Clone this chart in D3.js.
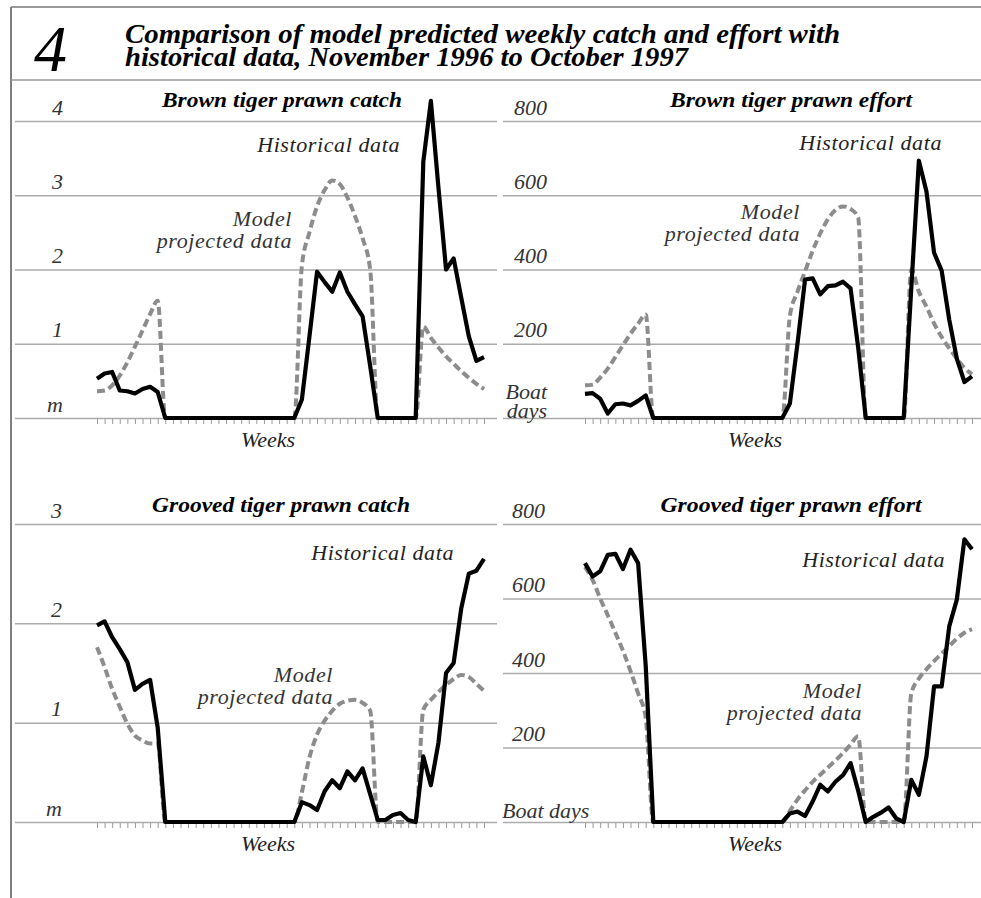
<!DOCTYPE html>
<html>
<head>
<meta charset="utf-8">
<script src="https://cdn.jsdelivr.net/npm/d3@7"></script>
<style>
  body { margin: 0; background: #fff; }
  text { font-family: "Liberation Serif", "Times New Roman", serif; }
</style>
</head>
<body>
<div id="chart"></div>
<script>
// weeks, November 1996 to October 1997
let weeks = d3.range(1, 53);

// values (catch in millions kg, effort in boat days)
let brownCatchHist = [
  0.53, 0.60, 0.62, 0.37, 0.36, 0.33, 0.39, 0.42, 0.35,
  0, 0, 0, 0, 0, 0, 0, 0, 0, 0, 0, 0, 0, 0, 0, 0, 0, 0,
  0.25, 1.10, 1.97, 1.83, 1.70, 1.96, 1.70, 1.53, 1.37, 0.70,
  0, 0, 0, 0, 0, 0,
  3.45, 4.27, 3.10, 2.00, 2.15, 1.62, 1.10, 0.77, 0.82
];
let brownCatchModel = [
  0.36, 0.37, 0.44, 0.57, 0.75, 0.96, 1.18, 1.40, 1.58,
  0, 0, 0, 0, 0, 0, 0, 0, 0, 0, 0, 0, 0, 0, 0, 0, 0, 0,
  2.05, 2.50, 2.85, 3.07, 3.20, 3.15, 2.97, 2.72, 2.42, 2.00,
  0, 0, 0, 0, 0, 0,
  1.23, 1.08, 0.95, 0.83, 0.73, 0.63, 0.54, 0.46, 0.39
];
let brownEffortHist = [
  65, 67, 52, 12, 37, 39, 34, 46, 61,
  0, 0, 0, 0, 0, 0, 0, 0, 0, 0, 0, 0, 0, 0, 0, 0, 0, 0,
  39, 200, 373, 376, 333, 355, 357, 367, 349, 190,
  0, 0, 0, 0, 0, 0,
  350, 693, 610, 445, 397, 265, 160, 97, 112
];
let brownEffortModel = [
  88, 90, 109, 133, 164, 196, 227, 254, 279,
  0, 0, 0, 0, 0, 0, 0, 0, 0, 0, 0, 0, 0, 0, 0, 0, 0, 0,
  275, 340, 395, 450, 497, 535, 560, 570, 563, 540,
  0, 0, 0, 0, 0, 0,
  400, 340, 300, 255, 218, 188, 160, 135, 118
];
let grooveCatchHist = [
  1.98, 2.02, 1.86, 1.74, 1.61, 1.33, 1.39, 1.43, 0.95,
  0, 0, 0, 0, 0, 0, 0, 0, 0, 0, 0, 0, 0, 0, 0, 0, 0, 0,
  0.20, 0.17, 0.12, 0.31, 0.42, 0.34, 0.51, 0.42, 0.54, 0.28,
  0.02, 0.02, 0.07, 0.09, 0.02, 0,
  0.66, 0.37, 0.80, 1.50, 1.60, 2.15, 2.50, 2.53, 2.65
];
let grooveCatchModel = [
  1.76, 1.56, 1.34, 1.16, 0.99, 0.87, 0.82, 0.79, 0.79,
  0, 0, 0, 0, 0, 0, 0, 0, 0, 0, 0, 0, 0, 0, 0, 0, 0, 0,
  0.30, 0.65, 0.88, 1.02, 1.12, 1.19, 1.22, 1.23, 1.20, 1.12,
  0, 0, 0, 0, 0, 0,
  1.13, 1.23, 1.31, 1.38, 1.44, 1.48, 1.46, 1.39, 1.32
];
let grooveEffortHist = [
  695, 659, 673, 717, 720, 679, 731, 695, 420,
  0, 0, 0, 0, 0, 0, 0, 0, 0, 0, 0, 0, 0, 0, 0, 0, 0, 0,
  23, 28, 16, 55, 100, 82, 108, 126, 158, 84,
  0, 14, 25, 39, 10, 0,
  113, 73, 176, 364, 364, 525, 597, 759, 732
];
let grooveEffortModel = [
  685, 650, 600, 555, 508, 460, 405, 345, 280,
  0, 0, 0, 0, 0, 0, 0, 0, 0, 0, 0, 0, 0, 0, 0, 0, 0, 0,
  30, 60, 85, 108, 127, 146, 165, 185, 208, 230,
  0, 0, 0, 0, 0, 0,
  345, 385, 410, 432, 452, 472, 492, 508, 518
];

// tick values and labels
let brownCatchTicks = [0, 1, 2, 3, 4];
let grooveCatchTicks = [0, 1, 2, 3];
let catchLabels = ["m", "1", "2", "3", "4"];
let effortTicks = [0, 200, 400, 600, 800];
let effortLabels = ["Boat days", "200", "400", "600", "800"];

let titleLines = [
  "Comparison of model predicted weekly catch and effort with",
  "historical data, November 1996 to October 1997"
];

let svgWidth = 981;
let svgHeight = 898;

let svg = d3.select("#chart")
  .append("svg")
  .attr("width", svgWidth)
  .attr("height", svgHeight);

// frame
svg.append("line")
  .attr("x1", 11).attr("x2", 11).attr("y1", 7).attr("y2", svgHeight)
  .attr("stroke", "#555").attr("stroke-width", 1.5);
svg.append("line")
  .attr("x1", 11).attr("x2", svgWidth).attr("y1", 7).attr("y2", 7)
  .attr("stroke", "#777").attr("stroke-width", 1.5);
svg.append("line")
  .attr("x1", 11).attr("x2", svgWidth).attr("y1", 80).attr("y2", 80)
  .attr("stroke", "#999").attr("stroke-width", 1.5);

// figure number and title
svg.append("text")
  .attr("x", 34).attr("y", 71)
  .attr("font-size", 66)
  .attr("font-style", "italic")
  .text("4");

svg.selectAll(".title")
  .data(titleLines)
  .enter()
  .append("text")
  .attr("class", "title")
  .attr("x", 125)
  .attr("y", (d, i) => 43 + i * 23)
  .attr("font-size", 27)
  .attr("font-weight", "bold")
  .attr("font-style", "italic")
  .attr("textLength", (d, i) => i === 0 ? 715 : 563)
  .attr("lengthAdjust", "spacingAndGlyphs")
  .text(d => d);

function drawPanel(p) {
  let g = svg.append("g");

  let x = d3.scaleLinear()
    .domain([0, weeks.length - 1])
    .range(p.xRange);

  let y = d3.scaleLinear()
    .domain([0, p.max])
    .range(p.yRange);

  // gridlines with value labels sitting on top of them
  let leftAxis = d3.axisLeft(y)
    .tickValues(p.ticks)
    .tickSize(p.grid[1] - p.grid[0])
    .tickFormat((d, i) => p.labels[i]);

  let yAxis = g.append("g")
    .attr("transform", `translate(${p.grid[1]},0)`)
    .call(leftAxis);

  yAxis.select(".domain").remove();
  yAxis.attr("font-family", null).attr("font-size", null);
  yAxis.selectAll("line")
    .attr("stroke", "#ababab")
    .attr("stroke-width", 1.5);
  yAxis.selectAll("text")
    .attr("x", p.labelX - p.grid[1])
    .attr("dy", -7)
    .attr("fill", "#333")
    .attr("font-size", 22)
    .attr("font-style", "italic");

  // zero label: "m" or "Boat days"
  let zero = yAxis.selectAll("text").filter(d => d === 0);
  if (p.zeroSplit) {
    zero.text(null);
    zero.append("tspan").attr("x", p.labelX - p.grid[1]).attr("dy", -20).text("Boat");
    zero.append("tspan").attr("x", p.labelX - p.grid[1]).attr("dy", 19).text("days");
  }
  if (p.zeroStart) {
    zero.attr("text-anchor", "start")
      .attr("x", p.zeroStart - p.grid[1])
      .attr("dy", -5);
  }

  // week ticks
  let bottomAxis = d3.axisBottom(x)
    .tickValues(d3.range(weeks.length))
    .tickSize(5)
    .tickFormat("");

  let xAxis = g.append("g")
    .attr("transform", `translate(0, ${p.yRange[0] + 1})`)
    .call(bottomAxis);

  xAxis.select(".domain").remove();
  xAxis.selectAll("line").attr("stroke", "#999");

  // model (dashed, smooth) then historical (solid)
  let modelLine = d3.line()
    .x((d, i) => x(i))
    .y(d => y(d))
    .curve(d3.curveMonotoneX);

  let histLine = d3.line()
    .x((d, i) => x(i))
    .y(d => y(d));

  g.append("path")
    .datum(p.model)
    .attr("d", modelLine)
    .attr("fill", "none")
    .attr("stroke", "#8c8c8c")
    .attr("stroke-width", 4)
    .attr("stroke-dasharray", "8,4");

  g.append("path")
    .datum(p.hist)
    .attr("d", histLine)
    .attr("fill", "none")
    .attr("stroke", "#000")
    .attr("stroke-width", 4.2)
    .attr("stroke-linejoin", "round");

  // panel title
  g.append("text")
    .attr("x", p.titleX)
    .attr("y", p.titleY)
    .attr("text-anchor", "middle")
    .attr("font-size", 21)
    .attr("font-weight", "bold")
    .attr("font-style", "italic")
    .attr("textLength", p.titleW)
    .attr("lengthAdjust", "spacingAndGlyphs")
    .text(p.title);

  // annotations
  g.append("text")
    .attr("x", p.histAt[0])
    .attr("y", p.histAt[1])
    .attr("text-anchor", "end")
    .attr("font-size", 22)
    .attr("font-style", "italic")
    .attr("letter-spacing", 0.6)
    .attr("fill", "#222")
    .text("Historical data");

  let model = g.append("text")
    .attr("text-anchor", "end")
    .attr("font-size", 22)
    .attr("font-style", "italic")
    .attr("letter-spacing", 0.6)
    .attr("fill", "#333");
  model.append("tspan").attr("x", p.modelAt[0]).attr("y", p.modelAt[1]).text("Model");
  model.append("tspan").attr("x", p.modelAt[0]).attr("y", p.modelAt[1] + 22).text("projected data");

  g.append("text")
    .attr("x", p.weeksX)
    .attr("y", p.yRange[0] + 29)
    .attr("text-anchor", "middle")
    .attr("font-size", 22)
    .attr("font-style", "italic")
    .attr("fill", "#222")
    .text("Weeks");
}

drawPanel({
  title: "Brown tiger prawn catch", titleX: 282, titleY: 107, titleW: 240,
  hist: brownCatchHist, model: brownCatchModel,
  max: 4, ticks: brownCatchTicks, labels: catchLabels,
  xRange: [97, 484], yRange: [418, 121], grid: [15, 497], labelX: 63,
  histAt: [400, 152], modelAt: [292, 226], weeksX: 268
});

drawPanel({
  title: "Brown tiger prawn effort", titleX: 791, titleY: 107, titleW: 242,
  hist: brownEffortHist, model: brownEffortModel,
  max: 800, ticks: effortTicks, labels: effortLabels, zeroSplit: true,
  xRange: [585, 972], yRange: [418, 121], grid: [503, 981], labelX: 547,
  histAt: [942, 150], modelAt: [800, 219], weeksX: 755
});

drawPanel({
  title: "Grooved tiger prawn catch", titleX: 281, titleY: 512, titleW: 258,
  hist: grooveCatchHist, model: grooveCatchModel,
  max: 3, ticks: grooveCatchTicks, labels: catchLabels,
  xRange: [97, 484], yRange: [822, 524], grid: [15, 497], labelX: 62,
  histAt: [454, 560], modelAt: [333, 682], weeksX: 268
});

drawPanel({
  title: "Grooved tiger prawn effort", titleX: 791, titleY: 512, titleW: 261,
  hist: grooveEffortHist, model: grooveEffortModel,
  max: 800, ticks: effortTicks, labels: effortLabels, zeroStart: 502,
  xRange: [585, 972], yRange: [822, 524], grid: [503, 981], labelX: 545,
  histAt: [945, 567], modelAt: [862, 698], weeksX: 755
});
</script>
</body>
</html>
